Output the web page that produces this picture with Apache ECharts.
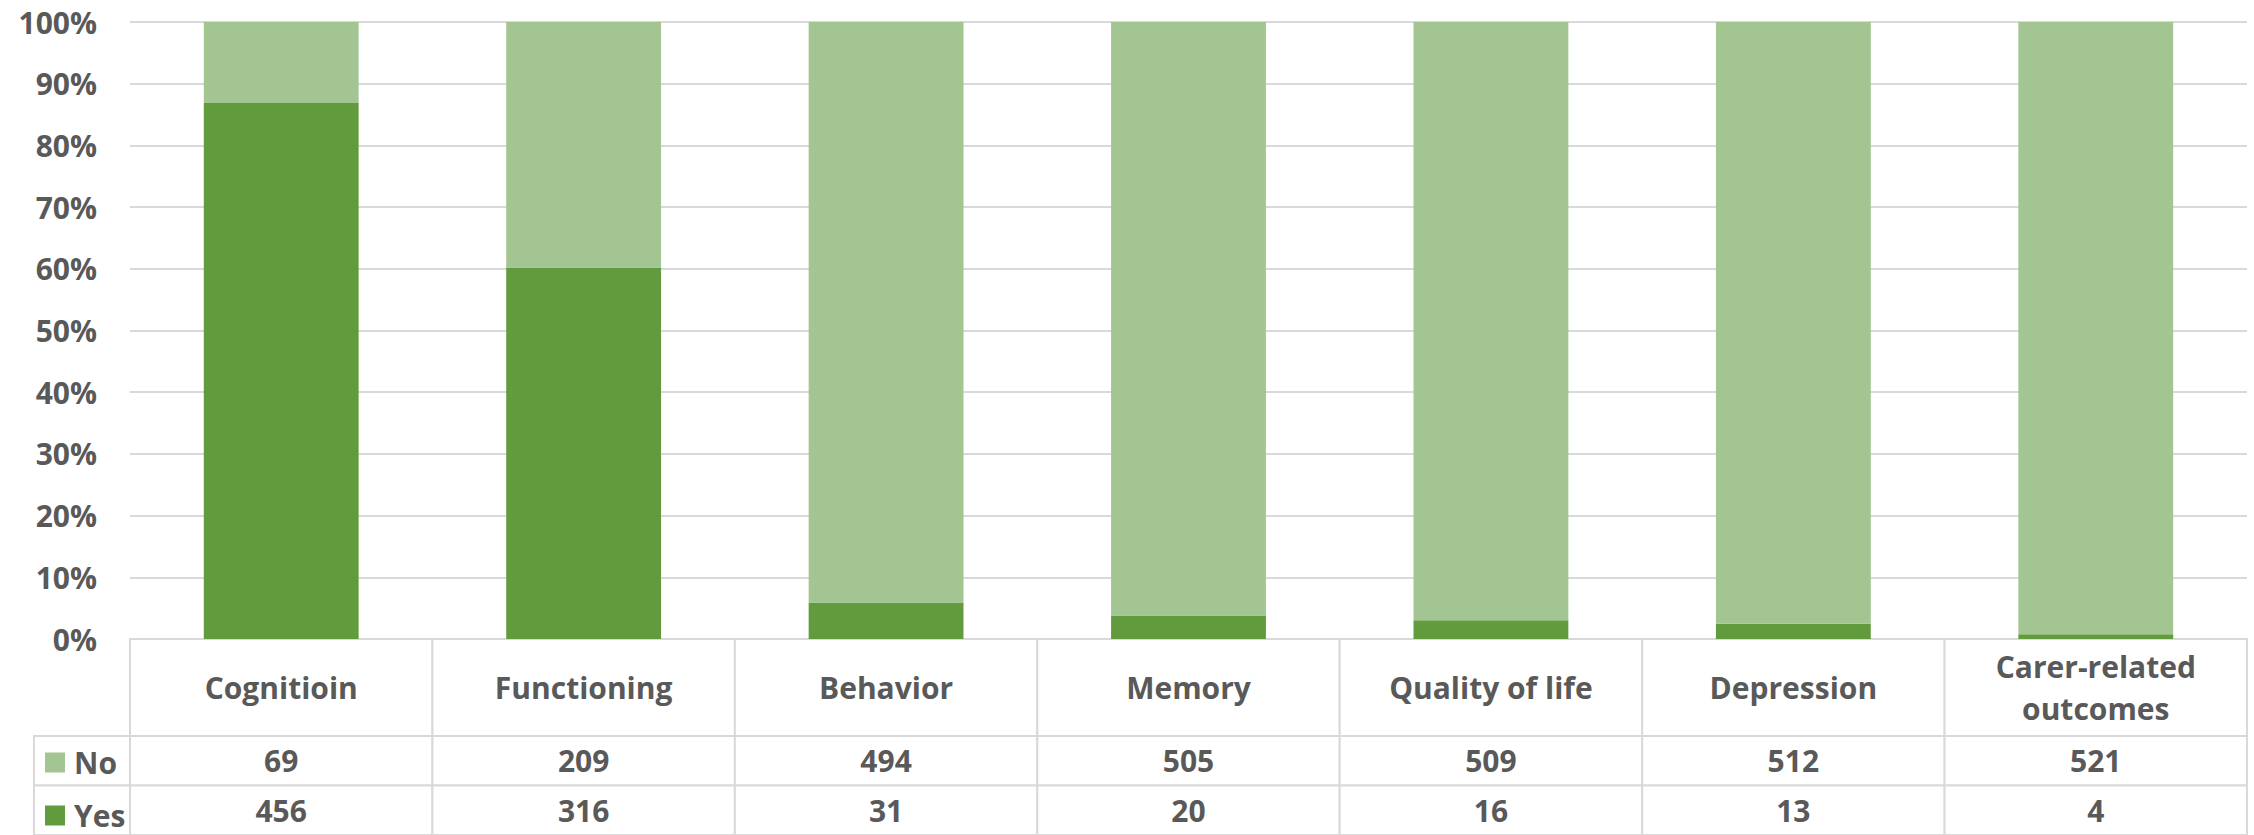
<!DOCTYPE html>
<html>
<head>
<meta charset="utf-8">
<script src="https://cdn.jsdelivr.net/npm/echarts@6/dist/echarts.min.js"></script>
<style>
  html, body { margin: 0; padding: 0; background: #fff; }
  #chart { width: 2254px; height: 835px; }
</style>
</head>
<body>
<div id="chart"></div>
<script>
// Outcome categories and counts per category
const categories = ['Cognitioin', 'Functioning', 'Behavior', 'Memory', 'Quality of life', 'Depression', 'Carer-related\noutcomes'];
const noCounts  = [69, 209, 494, 505, 509, 512, 521];
const yesCounts = [456, 316, 31, 20, 16, 13, 4];
const rowNames = ['Yes', 'No'];           // table rows, bottom to top
const yTicks = [0, 10, 20, 30, 40, 50, 60, 70, 80, 90, 100];

const COLOR_YES = '#629b3d';
const COLOR_NO = '#a3c592';
const TEXT = '#595959';
const LINE = '#d9d9d9';
const FONT = 'Open Sans';
const FS = 30;

// 100% stacked shares
const pct = (a, b) => a.map((v, i) => v / (v + b[i]) * 100);
const yesPct = pct(yesCounts, noCounts);
const noPct = pct(noCounts, yesCounts);

const PLOT_L = 130, PLOT_R = 7, PLOT_T = 22, PLOT_B = 639;
const HEAD_H = 97, ROW_H = 53;

// draws one bordered table cell with optional centered text
function cell(getText) {
  return function (params, api) {
    const c = api.coord([api.value(0), api.value(1)]);
    const s = api.size([1, 1]);
    const children = [{
      type: 'rect',
      shape: { x: c[0] - s[0] / 2, y: c[1] - s[1] / 2, width: s[0], height: s[1] },
      style: { fill: '#fff', stroke: LINE, lineWidth: 2 }
    }];
    const t = getText(params.dataIndex, api);
    if (t !== null) {
      children.push({
        type: 'text',
        style: {
          text: t, x: c[0], y: c[1], align: 'center', verticalAlign: 'middle',
          fontFamily: FONT, fontWeight: 'bold', fontSize: FS, lineHeight: 42, fill: TEXT
        }
      });
    }
    return { type: 'group', children };
  };
}

const headerData = categories.map((c, i) => [i, 0]);
const valueData = [];
categories.forEach((c, i) => {
  valueData.push([i, 'No', noCounts[i]]);
  valueData.push([i, 'Yes', yesCounts[i]]);
});

const legendStyle = {
  orient: 'horizontal', left: 45, icon: 'rect', itemWidth: 20, itemHeight: 20,
  padding: 0, selectedMode: false,
  textStyle: { color: TEXT, fontFamily: FONT, fontWeight: 'bold', fontSize: FS, lineHeight: 30, padding: [0, 0, 0, 4] }
};

const option = {
  backgroundColor: '#fff',
  animation: false,
  legend: [
    Object.assign({ data: ['No'], top: 736 + ROW_H / 2 - 15 }, legendStyle),
    Object.assign({ data: ['Yes'], top: 736 + ROW_H * 1.5 - 15 }, legendStyle)
  ],
  grid: [
    { left: PLOT_L, right: PLOT_R, top: PLOT_T, height: PLOT_B - PLOT_T },
    { left: PLOT_L, right: PLOT_R, top: PLOT_B, height: HEAD_H },
    { left: PLOT_L, right: PLOT_R, top: PLOT_B + HEAD_H, height: ROW_H * 2 },
    { left: 34, width: PLOT_L - 34, top: PLOT_B + HEAD_H, height: ROW_H * 2 }
  ],
  xAxis: [
    { gridIndex: 0, type: 'category', data: categories, axisLine: { show: false }, axisTick: { show: false }, axisLabel: { show: false } },
    { gridIndex: 1, type: 'category', data: categories, show: false },
    { gridIndex: 2, type: 'category', data: categories, show: false },
    { gridIndex: 3, type: 'category', data: ['key'], show: false }
  ],
  yAxis: [
    {
      gridIndex: 0, type: 'value', min: 0, max: 100, interval: 10,
      axisLine: { show: false }, axisTick: { show: false },
      axisLabel: { formatter: '{value}%', margin: 33, color: TEXT, fontFamily: FONT, fontWeight: 'bold', fontSize: FS },
      splitLine: { lineStyle: { color: LINE, width: 2 } }
    },
    { gridIndex: 1, type: 'category', data: ['head'], show: false },
    { gridIndex: 2, type: 'category', data: rowNames, show: false },
    { gridIndex: 3, type: 'category', data: rowNames, show: false }
  ],
  series: [
    {
      name: 'Yes', type: 'bar', stack: 'share', xAxisIndex: 0, yAxisIndex: 0,
      data: yesPct, barWidth: '51.2%', itemStyle: { color: COLOR_YES }
    },
    {
      name: 'No', type: 'bar', stack: 'share', xAxisIndex: 0, yAxisIndex: 0,
      data: noPct, barWidth: '51.2%', itemStyle: { color: COLOR_NO }
    },
    {
      type: 'custom', xAxisIndex: 1, yAxisIndex: 1, data: headerData,
      encode: { x: 0, y: 1 }, silent: true,
      renderItem: cell((i) => categories[i])
    },
    {
      type: 'custom', xAxisIndex: 2, yAxisIndex: 2, data: valueData,
      encode: { x: 0, y: 1 }, silent: true,
      renderItem: cell((i, api) => String(api.value(2)))
    },
    {
      type: 'custom', xAxisIndex: 3, yAxisIndex: 3, data: [[0, 'No'], [0, 'Yes']],
      encode: { x: 0, y: 1 }, silent: true, z: 1,
      renderItem: cell(() => null)
    }
  ]
};

const chart = echarts.init(document.getElementById('chart'), null, { renderer: 'svg' });
chart.setOption(option);
</script>
</body>
</html>
